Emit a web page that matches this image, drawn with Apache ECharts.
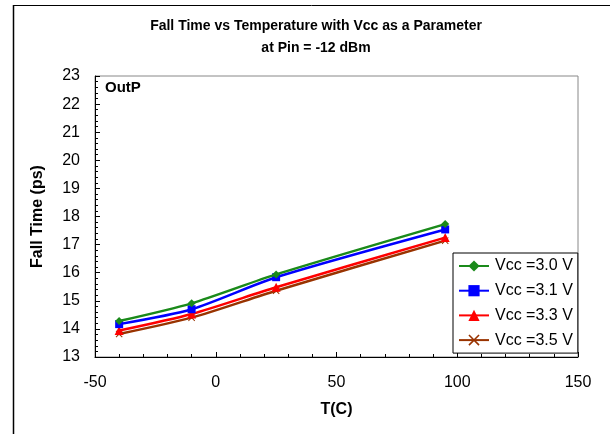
<!DOCTYPE html>
<html>
<head>
<meta charset="utf-8">
<script src="https://cdn.jsdelivr.net/npm/echarts@6/dist/echarts.min.js"></script>
<style>
html,body{margin:0;padding:0;background:#fff;}
#c{width:615px;height:434px;}
</style>
</head>
<body>
<div id="c"></div>
<script>
var temps = [-40, -10, 25, 95];
var vcc30 = [14.28, 14.91, 15.94, 17.73];
var vcc31 = [14.17, 14.70, 15.84, 17.54];
var vcc33 = [13.94, 14.53, 15.48, 17.25];
var vcc35 = [13.82, 14.40, 15.36, 17.14];
var seriesNames = ['Vcc =3.0 V', 'Vcc =3.1 V', 'Vcc =3.3 V', 'Vcc =3.5 V'];
var xTicks = [-50, 0, 50, 100, 150];
var yTicks = [13, 14, 15, 16, 17, 18, 19, 20, 21, 22, 23];

var FONT = 'Liberation Sans, Arial, sans-serif';
var colors = ['#1a8a1a', '#0000ff', '#ff0000', '#993300'];
var symbols = ['diamond', 'rect', 'triangle',
  'path://M0,1 L1,0 L5,4 L9,0 L10,1 L6,5 L10,9 L9,10 L5,6 L1,10 L0,9 L4,5 Z'];
var sizes = [8, 8, 9, 7];
var allData = [vcc30, vcc31, vcc33, vcc35];

function pairs(vals) { return temps.map(function (t, i) { return [t, vals[i]]; }); }

var series = allData.map(function (vals, i) {
  return {
    name: seriesNames[i],
    type: 'line',
    data: pairs(vals),
    smooth: 0.25,
    symbol: symbols[i],
    symbolSize: sizes[i],
    showAllSymbol: true,
    lineStyle: { color: colors[i], width: 2.5 },
    itemStyle: { color: colors[i], borderWidth: 0 },
    emphasis: { disabled: true },
    z: 10 - i
  };
});

var chart = echarts.init(document.getElementById('c'), null, { renderer: 'canvas' });
chart.setOption({
  animation: false,
  textStyle: { fontFamily: FONT },
  title: {
    text: 'Fall Time vs Temperature with Vcc as a Parameter\nat Pin = -12 dBm',
    left: 311, top: 10, textAlign: 'center',
    textStyle: { fontFamily: FONT, fontSize: 14, fontWeight: 'bold', color: '#000', lineHeight: 22 }
  },
  grid: { left: 95, right: 37, top: 76, bottom: 77, show: true, borderColor: '#888', borderWidth: 1, backgroundColor: 'transparent' },
  legend: {
    data: seriesNames,
    orient: 'vertical',
    left: 453, top: 253,
    padding: [5, 5, 5, 5],
    itemWidth: 30, itemHeight: 14, itemGap: 8.7,
    borderColor: '#000', borderWidth: 1,
    backgroundColor: '#fff',
    textStyle: { fontFamily: FONT, fontSize: 16, color: '#000', padding: [0, 0, 0, 1] }
  },
  xAxis: {
    type: 'value', min: xTicks[0], max: xTicks[xTicks.length - 1], interval: 50,
    name: 'T(C)', nameLocation: 'middle', nameGap: 45,
    nameTextStyle: { fontFamily: FONT, fontSize: 16, fontWeight: 'bold', color: '#000' },
    axisLine: { show: true, onZero: false, lineStyle: { color: '#000', width: 1 } },
    axisTick: { show: true, inside: true, length: 5, lineStyle: { color: '#000' } },
    minorTick: { show: true, splitNumber: 5, length: 3, lineStyle: { color: '#000' } },
    axisLabel: { fontFamily: FONT, fontSize: 16, color: '#000', margin: 18 },
    splitLine: { show: false }
  },
  yAxis: {
    type: 'value', min: yTicks[0], max: yTicks[yTicks.length - 1], interval: 1,
    name: 'Fall Time (ps)', nameLocation: 'middle', nameGap: 49,
    nameTextStyle: { fontFamily: FONT, fontSize: 16, fontWeight: 'bold', color: '#000' },
    axisLine: { show: true, onZero: false, lineStyle: { color: '#000', width: 1 } },
    axisTick: { show: true, inside: true, length: 5, lineStyle: { color: '#000' } },
    minorTick: { show: true, splitNumber: 5, length: 3, lineStyle: { color: '#000' } },
    axisLabel: { fontFamily: FONT, fontSize: 16, color: '#000', margin: 15 },
    splitLine: { show: false }
  },
  graphic: [
    { type: 'line', shape: { x1: 13, y1: 5.5, x2: 610, y2: 5.5 }, style: { stroke: '#000', lineWidth: 1 }, silent: true },
    { type: 'line', shape: { x1: 13.5, y1: 5, x2: 13.5, y2: 434 }, style: { stroke: '#000', lineWidth: 1.5 }, silent: true },
    { type: 'text', left: 105, top: 80, style: { text: 'OutP', font: 'bold 15px ' + FONT, fill: '#000' }, silent: true }
  ],
  series: series
});
</script>
</body>
</html>
